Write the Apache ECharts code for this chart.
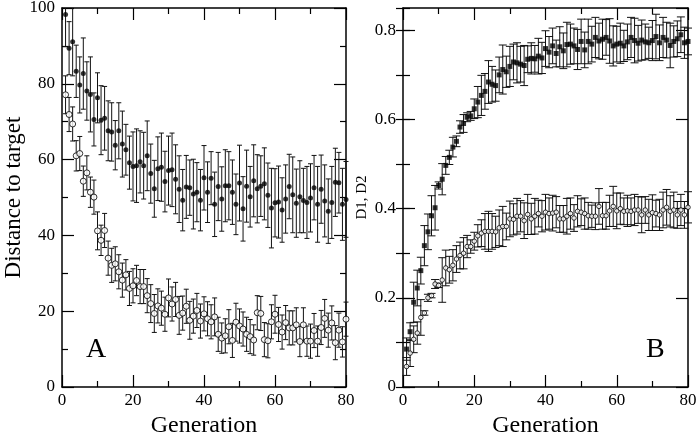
<!DOCTYPE html>
<html><head><meta charset="utf-8">
<script src="https://cdn.jsdelivr.net/npm/echarts@6/dist/echarts.min.js"></script>
<style>html,body{margin:0;padding:0;background:#fff}#c{width:700px;height:433px}</style>
</head><body><div id="c"></div>
<script>
const generations = [1,2,3,4,5,6,7,8,9,10,11,12,13,14,15,16,17,18,19,20,21,22,23,24,25,26,27,28,29,30,31,32,33,34,35,36,37,38,39,40,41,42,43,44,45,46,47,48,49,50,51,52,53,54,55,56,57,58,59,60,61,62,63,64,65,66,67,68,69,70,71,72,73,74,75,76,77,78,79,80];

const distFilled = [98.3,89.4,91.1,83.3,79.7,82.7,78.1,77.2,70.6,76.3, 70.4,70.9,67.6,67.3,63.8,67.6,64.1,62.6,59.2,58.2, 58.4,59.4,58.4,61.0,56.3,52.3,57.6,58.0,54.2,57.1, 57.3,54.8,52.2,49.3,52.8,52.6,50.9,51.4,49.3,55.2, 51.4,55.1,48.2,52.9,49.6,53.1,53.1,51.4,48.2,53.8, 47.0,53.0,50.2,54.4,52.3,53.0,53.6,50.6,47.2,48.6, 48.8,46.7,49.6,52.9,50.7,48.5,50.2,49.2,48.7,49.9, 52.6,48.2,52.2,49.1,46.4,48.7,54.0,53.9,48.2,49.5];
const distFilledErr = [8.5,7.0,9.0,6.9,7.4,9.4,7.7,9.9,7.0,6.6, 9.1,8.4,7.9,7.7,6.5,7.4,8.7,6.7,7.0,9.1, 9.7,8.2,8.8,9.2,7.8,7.5,8.4,9.0,8.0,9.1, 9.7,9.1,8.8,8.1,8.3,7.3,9.2,7.8,8.1,8.5, 8.0,7.0,8.5,9.0,8.5,9.5,9.0,8.5,8.0,10.0, 8.5,9.5,8.0,9.5,9.0,8.0,9.5,8.5,10.5,9.0, 9.5,8.5,9.0,8.5,10.0,9.0,9.5,8.5,9.5,9.0, 8.5,10.0,9.0,9.5,8.5,9.5,9.0,8.0,9.5,10.0];
const distOpen = [77.1,71.9,69.4,61.0,61.6,54.3,56.5,51.4,50.1,41.2, 38.7,41.3,34.0,32.1,32.5,30.4,28.2,29.6,26.0,26.7, 28.1,26.5,26.5,24.1,22.0,19.4,21.4,20.8,19.2,23.5, 21.9,23.1,18.9,19.5,21.3,17.6,18.7,20.2,17.4,19.3, 18.0,17.2,18.5,13.9,12.9,13.5,15.9,12.3,17.1,16.1, 15.3,13.9,13.3,12.4,19.6,19.4,12.5,12.2,17.2,19.2, 16.5,14.5,17.0,15.6,15.6,16.4,12.0,16.4,12.1,12.1, 14.9,12.1,15.7,18.1,15.0,16.9,11.7,15.0,11.9,17.9];
const distOpenErr = [5.0,4.5,4.5,4.0,4.5,4.0,4.5,4.0,4.5,5.0, 4.0,4.5,4.5,4.5,4.5,4.5,4.5,4.0,4.5,4.5, 4.0,4.5,4.5,4.5,5.0,5.0,4.5,4.5,4.5,5.0, 4.5,4.5,5.0,4.5,4.5,5.0,4.5,4.5,4.5,4.5, 4.5,4.5,5.0,4.5,4.0,4.5,4.5,4.5,5.0,4.5, 4.5,4.5,4.5,4.0,4.5,4.5,4.5,4.5,4.5,5.0, 4.5,4.5,4.5,4.5,4.5,4.5,4.0,4.5,4.0,4.5, 4.5,4.0,4.5,5.0,4.5,4.5,4.5,4.5,4.0,4.5];

const d1Filled = [0.085,0.124,0.190,0.222,0.261,0.317,0.348,0.384,0.402,0.452, 0.466,0.497,0.515,0.538,0.551,0.583,0.591,0.605,0.608,0.624, 0.639,0.654,0.663,0.684,0.679,0.676,0.700,0.712,0.707,0.719, 0.729,0.727,0.724,0.721,0.735,0.737,0.736,0.742,0.738,0.759, 0.751,0.765,0.748,0.763,0.754,0.768,0.769,0.765,0.757,0.775, 0.756,0.775,0.769,0.784,0.776,0.780,0.784,0.776,0.765,0.769, 0.771,0.765,0.774,0.784,0.777,0.771,0.778,0.774,0.772,0.777, 0.786,0.772,0.784,0.778,0.766,0.775,0.781,0.790,0.772,0.775];
const d1FilledErr = [0.025,0.020,0.045,0.040,0.030,0.045,0.040,0.045,0.050,0.008, 0.035,0.020,0.016,0.022,0.012,0.014,0.020,0.010,0.010,0.022, 0.035,0.045,0.040,0.048,0.040,0.035,0.040,0.055,0.035,0.045, 0.040,0.045,0.040,0.045,0.030,0.035,0.030,0.040,0.035,0.040, 0.035,0.040,0.030,0.045,0.040,0.050,0.045,0.040,0.045,0.050, 0.040,0.050,0.040,0.045,0.040,0.045,0.040,0.050,0.045,0.040, 0.045,0.035,0.040,0.045,0.050,0.040,0.045,0.040,0.035,0.045, 0.050,0.040,0.045,0.040,0.050,0.035,0.040,0.040,0.035,0.030];
const d2Open = [0.046,0.076,0.107,0.121,0.156,0.166,0.200,0.205,0.231,0.228, 0.240,0.267,0.263,0.273,0.287,0.295,0.300,0.315,0.315,0.327, 0.339,0.345,0.349,0.349,0.349,0.348,0.357,0.360,0.360,0.377, 0.376,0.383,0.383,0.373,0.387,0.377,0.383,0.389,0.383,0.392, 0.389,0.390,0.392,0.377,0.377,0.383,0.389,0.379,0.394,0.392, 0.389,0.384,0.383,0.383,0.405,0.384,0.384,0.395,0.405,0.395, 0.400,0.394,0.395,0.394,0.397,0.397,0.386,0.397,0.386,0.391, 0.389,0.386,0.397,0.403,0.394,0.397,0.386,0.397,0.386,0.403];
const d2OpenErr = [0.020,0.030,0.030,0.025,0.040,0.005,0.008,0.005,0.010,0.005, 0.050,0.040,0.030,0.035,0.030,0.030,0.035,0.025,0.015,0.020, 0.025,0.030,0.040,0.045,0.040,0.035,0.040,0.045,0.030,0.040, 0.035,0.040,0.035,0.040,0.045,0.035,0.040,0.030,0.035,0.040, 0.035,0.040,0.035,0.030,0.030,0.040,0.035,0.030,0.035,0.030, 0.035,0.030,0.025,0.030,0.040,0.030,0.030,0.035,0.045,0.040, 0.035,0.030,0.035,0.030,0.035,0.030,0.040,0.030,0.035,0.040, 0.030,0.035,0.040,0.040,0.035,0.040,0.030,0.035,0.030,0.035];

const xTickLabels = ['0','20','40','60','80'];

const FONT = '"Liberation Serif", "DejaVu Serif", serif';

function pts(vals){ return vals.map((v,i)=>[generations[i], v]); }
function errs(vals, e){ return vals.map((v,i)=>[generations[i], v - e[i], v + e[i]]); }

function errRender(capHalf){
  return function(params, api){
    const cs = params.coordSys;
    const x = api.value(0);
    const lo = api.coord([x, api.value(1)]);
    const hi = api.coord([x, api.value(2)]);
    const top = cs.y, bot = cs.y + cs.height;
    let y1 = hi[1], y2 = lo[1];
    const topCap = y1 >= top, botCap = y2 <= bot;
    y1 = Math.max(y1, top); y2 = Math.min(y2, bot);
    const style = {stroke:'#111', lineWidth:1};
    const ch = [{type:'line', shape:{x1:hi[0], y1:y1, x2:hi[0], y2:y2}, style}];
    if (topCap) ch.push({type:'line', shape:{x1:hi[0]-capHalf, y1:y1, x2:hi[0]+capHalf, y2:y1}, style});
    if (botCap) ch.push({type:'line', shape:{x1:hi[0]-capHalf, y1:y2, x2:hi[0]+capHalf, y2:y2}, style});
    return {type:'group', children: ch};
  };
}

const lineStyle = {color:'#000', width:1.5};
const tickStyle = {color:'#000', width:1.2};

function xAx(grid, pos, labels){
  return {
    type:'value', gridIndex:grid, position:pos, min:0, max:80, interval:20,
    axisLine:{show:true, onZero:false, lineStyle},
    axisTick:{show:true, inside:true, length:12, lineStyle:tickStyle},
    minorTick:{show:true, splitNumber:2, length:6, lineStyle:tickStyle},
    splitLine:{show:false}, minorSplitLine:{show:false},
    axisLabel:{show:labels, fontFamily:FONT, fontSize:17, color:'#000', margin:5,
      formatter: v => xTickLabels[Math.round(v/20)]},
    name: labels ? 'Generation' : '', nameLocation:'middle', nameGap:20,
    nameTextStyle:{fontFamily:FONT, fontSize:24, color:'#000'}
  };
}

const option = {
  animation:false,
  backgroundColor:'#fff',
  grid:[
    {left:62, top:8, width:284, height:379, outerBoundsMode:'none', containLabel:false},
    {left:403, top:8, width:285, height:379, outerBoundsMode:'none', containLabel:false}
  ],
  xAxis:[ xAx(0,'bottom',true), xAx(0,'top',false), xAx(1,'bottom',true), xAx(1,'top',false) ],
  yAxis:[
    {type:'value', gridIndex:0, position:'left', min:0, max:100, interval:20,
     axisLine:{show:true, onZero:false, lineStyle},
     axisTick:{show:true, inside:true, length:12, lineStyle:tickStyle},
     minorTick:{show:true, splitNumber:2, length:6, lineStyle:tickStyle},
     splitLine:{show:false},
     axisLabel:{fontFamily:FONT, fontSize:17, color:'#000', margin:7},
     name:'Distance to target', nameLocation:'middle', nameGap:34, nameRotate:90,
     nameTextStyle:{fontFamily:FONT, fontSize:23, color:'#000'}},
    {type:'value', gridIndex:0, position:'right', min:0, max:100, interval:20,
     axisLine:{show:true, onZero:false, lineStyle},
     axisTick:{show:true, inside:true, length:12, lineStyle:tickStyle},
     minorTick:{show:true, splitNumber:2, length:6, lineStyle:tickStyle},
     splitLine:{show:false}, axisLabel:{show:false}},
    {type:'value', gridIndex:1, position:'left', min:0, max:0.85, interval:0.2,
     axisLine:{show:true, onZero:false, lineStyle},
     axisTick:{show:true, inside:true, length:12, lineStyle:tickStyle},
     splitLine:{show:false},
     axisLabel:{fontFamily:FONT, fontSize:17, color:'#000', margin:7, showMaxLabel:false,
       formatter: v => v === 0 ? '0' : v.toFixed(1)},
     name:'D1, D2', nameLocation:'middle', nameGap:33, nameRotate:90,
     nameTextStyle:{fontFamily:FONT, fontSize:15, color:'#000'}},
    {type:'value', gridIndex:1, position:'right', min:0, max:0.85, interval:0.2,
     axisLine:{show:true, onZero:false, lineStyle},
     axisTick:{show:true, inside:true, length:12, lineStyle:tickStyle},
     splitLine:{show:false}, axisLabel:{show:false}},
    {type:'value', gridIndex:1, position:'left', min:0, max:0.85, interval:0.1,
     axisLine:{show:false}, axisTick:{show:true, inside:true, length:7, lineStyle:tickStyle},
     splitLine:{show:false}, axisLabel:{show:false}},
    {type:'value', gridIndex:1, position:'right', min:0, max:0.85, interval:0.1,
     axisLine:{show:false}, axisTick:{show:true, inside:true, length:7, lineStyle:tickStyle},
     splitLine:{show:false}, axisLabel:{show:false}}
  ],
  series:[
    {type:'custom', xAxisIndex:0, yAxisIndex:0, data:errs(distFilled, distFilledErr), encode:{x:0, y:[1,2]}, renderItem:errRender(2.5), z:1},
    {type:'custom', xAxisIndex:0, yAxisIndex:0, data:errs(distOpen, distOpenErr), encode:{x:0, y:[1,2]}, renderItem:errRender(2.5), z:1},
    {type:'scatter', xAxisIndex:0, yAxisIndex:0, data:pts(distFilled), symbol:'circle', symbolSize:5,
     itemStyle:{color:'#000'}, z:3},
    {type:'scatter', xAxisIndex:0, yAxisIndex:0, data:pts(distOpen), symbol:'circle', symbolSize:6,
     itemStyle:{color:'#fff', borderColor:'#000', borderWidth:1}, z:3},
    {type:'custom', xAxisIndex:2, yAxisIndex:2, data:errs(d1Filled, d1FilledErr), encode:{x:0, y:[1,2]}, renderItem:errRender(4), z:1},
    {type:'custom', xAxisIndex:2, yAxisIndex:2, data:errs(d2Open, d2OpenErr), encode:{x:0, y:[1,2]}, renderItem:errRender(4), z:1},
    {type:'scatter', xAxisIndex:2, yAxisIndex:2, data:pts(d1Filled), symbol:'rect', symbolSize:5,
     itemStyle:{color:'#000'}, z:3},
    {type:'scatter', xAxisIndex:2, yAxisIndex:2, data:pts(d2Open), symbol:'circle', symbolSize:4.5,
     itemStyle:{color:'#fff', borderColor:'#000', borderWidth:1}, z:3}
  ],
  graphic:[
    {type:'text', left:86, top:336, style:{text:'A', font:'28px ' + FONT, fill:'#000'}},
    {type:'text', left:646, top:336, style:{text:'B', font:'28px ' + FONT, fill:'#000'}}
  ]
};

const chart = echarts.init(document.getElementById('c'), null, {renderer:'canvas'});
chart.setOption(option);
</script>
</body></html>
